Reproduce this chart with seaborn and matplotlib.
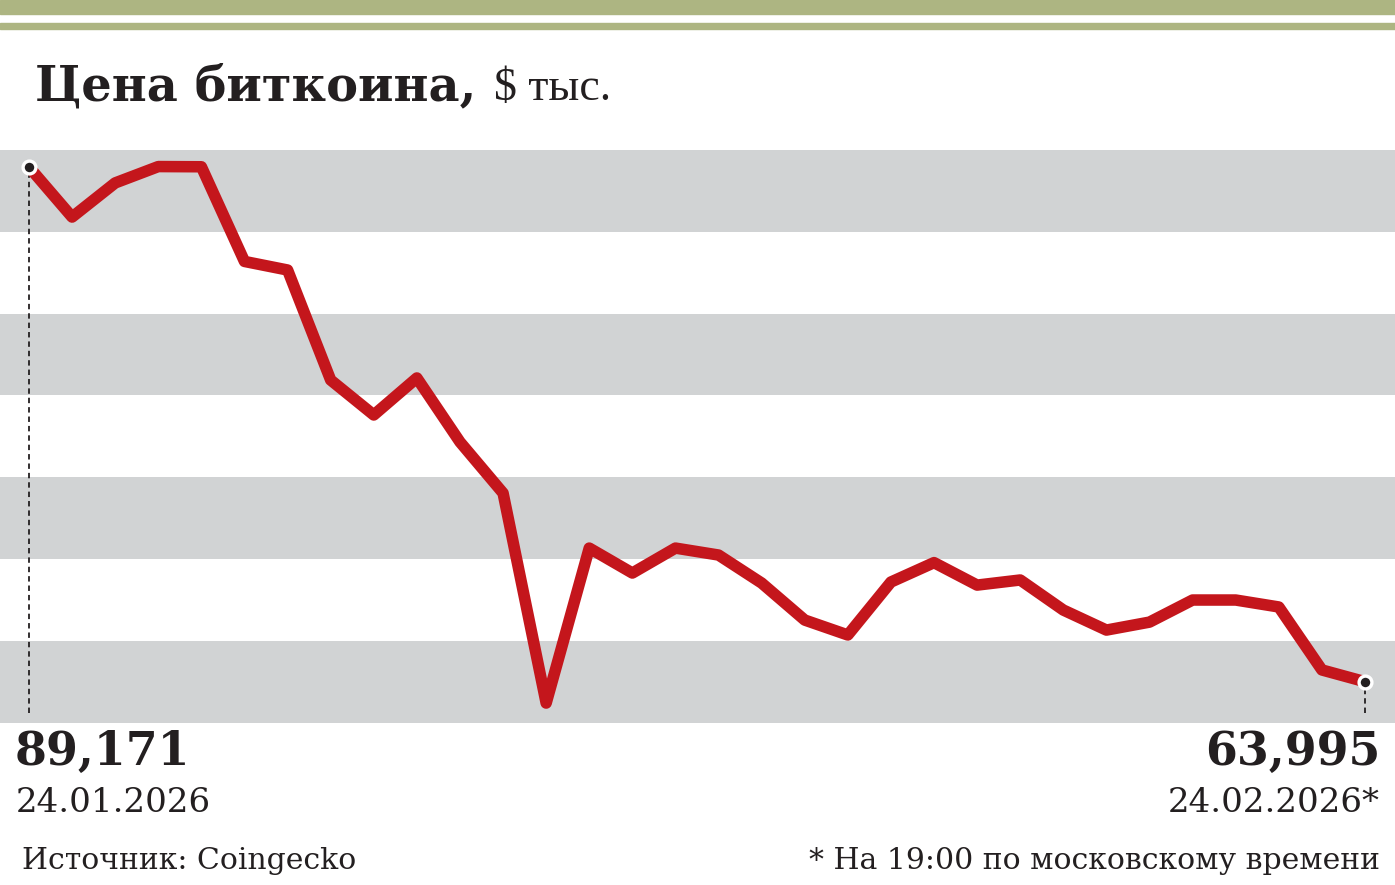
import numpy as np
import pandas as pd
import matplotlib
matplotlib.use("Agg")
import matplotlib.pyplot as plt
import seaborn as sns

# --- Data ---
days = list(range(32))  # 24.01.2026 ... 24.02.2026
price = [89171, 86720, 88390, 89190, 89180, 84550, 84130, 78750,
         77040, 78850, 75720, 73220, 62950, 70530, 69310, 70530,
         70190, 68820, 67010, 66280, 68870, 69820, 68720, 68970,
         67500, 66520, 66910, 67990, 67990, 67650, 64570, 63995]
start_label = "89,171"
end_label = "63,995"
start_date = "24.01.2026"
end_date = "24.02.2026*"
y_min, y_max, band = 62000, 90000, 4000

RED = "#c4161c"
GREY = "#d1d3d4"
OLIVE = "#adb582"
INK = "#231f20"

W, H = 1395, 885
sns.set_style("white")
plt.rcParams["font.family"] = ["DejaVu Serif", "DejaVu Sans"]

fig = plt.figure(figsize=(W / 100, H / 100), dpi=100)


def fx(px):
    return px / W


def fy(py):
    return 1 - py / H


# header bars
fig.patches.append(plt.Rectangle((0, fy(14)), 1, 14 / H, transform=fig.transFigure,
                                 color=OLIVE, zorder=0))
fig.patches.append(plt.Rectangle((0, fy(29)), 1, 6 / H, transform=fig.transFigure,
                                 color=OLIVE, zorder=0))

# plot area
top_px, bot_px = 150, 722.5
ax = fig.add_axes([0, fy(bot_px), 1, (bot_px - top_px) / H])
for lo in np.arange(y_min, y_max, 2 * band):
    ax.axhspan(lo, lo + band, color=GREY, lw=0, zorder=0)

df = pd.DataFrame({"day": days, "price": price})
sns.lineplot(data=df, x="day", y="price", ax=ax, color=RED, lw=8.3,
             solid_joinstyle="round", solid_capstyle="round", zorder=3)

# dashed drop lines and end markers
ax.plot([days[0], days[0]], [y_min + 450, price[0]], ls=(0, (3, 2.2)), color=INK,
        lw=1.3, zorder=2)
ax.plot([days[-1], days[-1]], [y_min + 450, price[-1]], ls=(0, (3, 2.2)), color=INK,
        lw=1.3, zorder=2)
ax.scatter([days[0], days[-1]], [price[0], price[-1]], s=85, color=INK,
           edgecolor="white", linewidth=2.4, zorder=5)

x0, dx = 29, (1365 - 29) / 31
ax.set_xlim(-x0 / dx, 31 + (W - 1365) / dx)
ax.set_ylim(y_min, y_max)
ax.axis("off")

# title
t = fig.text(fx(35), fy(100), "Цена биткоина,", fontsize=34.5, fontweight="bold",
             color=INK, va="baseline", ha="left")
fig.canvas.draw()
bb = t.get_window_extent()
fig.text(bb.x1 / W + fx(18), fy(100), "$ тыс.", fontsize=33, color=INK,
         family="Liberation Serif", va="baseline", ha="left")

# end labels
fig.text(fx(15), fy(765), start_label, fontsize=33, fontweight="heavy", color=INK,
         va="baseline", ha="left")
fig.text(fx(1380), fy(765), end_label, fontsize=33, fontweight="heavy", color=INK,
         va="baseline", ha="right")
fig.text(fx(16), fy(812), start_date, fontsize=24.5, color=INK,
         va="baseline", ha="left")
fig.text(fx(1380), fy(812), end_date, fontsize=24.5, color=INK,
         va="baseline", ha="right")

# footer
fig.text(fx(22), fy(869), "Источник: Coingecko", fontsize=21.5, color=INK,
         va="baseline", ha="left")
fig.text(fx(1380), fy(869), "* На 19:00 по московскому времени", fontsize=21.5,
         color=INK, va="baseline", ha="right")

fig.savefig("out.png", dpi=100)
